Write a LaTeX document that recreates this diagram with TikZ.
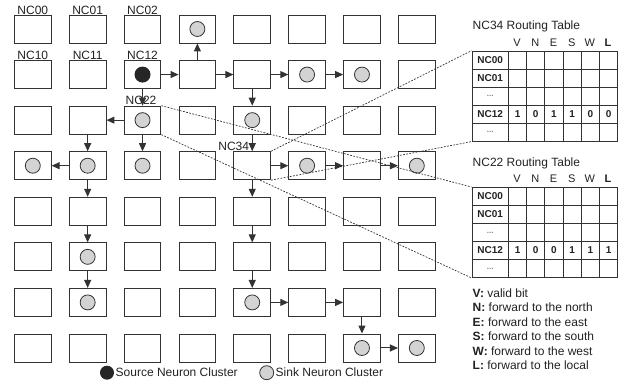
\documentclass[tikz,border=0pt]{standalone}
\usepackage{fontspec}
\setmainfont{Liberation Sans}
\usetikzlibrary{arrows.meta}
\definecolor{ln}{HTML}{333333}
\definecolor{txt}{HTML}{222222}
\definecolor{sinkfill}{HTML}{D3D3D3}
\tikzset{
 cell/.style={draw=ln, line width=0.95pt, minimum width=36.7pt, minimum height=28pt, inner sep=0pt},
 sink/.style={circle, draw=ln, line width=0.8pt, fill=sinkfill, minimum size=15pt, inner sep=0pt},
 source/.style={circle, fill=black!85, minimum size=16pt, inner sep=0pt},
 arr/.style={draw=ln, line width=1pt, -{Triangle[length=8pt,width=7pt]}},
 dsh/.style={draw=ln, line width=0.7pt, dash pattern=on 1.8pt off 1.4pt},
 lbl/.style={font=\fontsize{12}{14}\selectfont, inner sep=0pt, text=txt},
 hdr/.style={font=\fontsize{11}{13}\selectfont, inner sep=0pt, text=txt},
 tname/.style={draw=ln, line width=0.9pt, minimum width=36.5pt, minimum height=18pt, inner sep=0pt, font=\fontsize{10}{12}\selectfont\bfseries, text=txt, anchor=north west},
 tval/.style={draw=ln, line width=0.9pt, minimum width=18.2pt, minimum height=18pt, inner sep=0pt, font=\fontsize{10}{12}\selectfont\bfseries, text=txt, anchor=north west},
}
\newcommand\ellip{\textcolor{gray}{\fontsize{8}{10}\selectfont\textbf{...}}}
\newcommand\rtab[4]{%
 \node[lbl, anchor=west] (#1title) at (472.5, #2-24) {#3 Routing Table};
 \foreach \h [count=\kk] in {V,N,E,S,W,\textbf{L}}
   \node[hdr] (#1h\kk) at (508+18.2*\kk-9.1, #2-8) {\h};
 \foreach \nm [count=\rr] in {NC00,NC01,\ellip,NC12,\ellip}
   \node[tname] (#1-\rr-0) at (471.5, #2+18*\rr-18) {\nm};
 \foreach \rr in {1,2,3,5}
   \foreach \kk in {1,...,6}
     \node[tval] (#1-\rr-\kk) at (508+18.2*\kk-18.2, #2+18*\rr-18) {};
 \foreach \v [count=\kk] in {#4}
   \node[tval] (#1-4-\kk) at (508+18.2*\kk-18.2, #2+54) {\v};
}
\begin{document}
\begin{tikzpicture}[x=1pt,y=-1pt]
\useasboundingbox (0,0) rectangle (635,385);
% grid
\foreach \rr in {0,...,7}
  \foreach \cc in {0,...,7}
    \node[cell] (n\rr\cc) at ({32.8+54.86*\cc},{29+45.57*\rr}) {};
% labels
\foreach \id in {00,01,02,10,11,12}
  \node[lbl, anchor=base] (l\id) at ([yshift=0.5pt]n\id.north) {NC\id};
\node[lbl, anchor=base] (l22) at ([xshift=-1.5pt,yshift=0.8pt]n22.north) {NC22};
\node[lbl, anchor=base east] (l34) at ([xshift=-3pt,yshift=0.8pt]n34.north) {NC34};
% source and sinks
\node[source] (src) at (n12) {};
\foreach \id in {03,15,16,22,24,30,31,32,35,37,51,61,64,76,77}
  \node[sink] (s\id) at (n\id) {};
% arrows
\foreach \a/\b in {12/13,13/14,14/15,15/16,34/35,35/36,36/37,64/65,65/66,76/77}
  \draw[arr] (n\a.east) -- (n\b.west);
\foreach \a/\b in {14/24,24/34,34/44,44/54,54/64,66/76,12/22,22/32,21/31,31/41,41/51,51/61}
  \draw[arr] (n\a.south) -- (n\b.north);
\draw[arr] (n13.north) -- (n03.south);
\foreach \a/\b in {22/21,31/30}
  \draw[arr] (n\a.west) -- (n\b.east);
% tables
\rtab{A}{50.7}{NC34}{1,0,1,1,0,0}
\rtab{B}{187}{NC22}{1,0,0,1,1,1}
% dashed connectors
\draw[dsh] (n34.north east) -- (A-1-0.north west);
\draw[dsh] (n34.south east) -- (A-5-0.south west);
\draw[dsh] (n22.north east) -- (B-1-0.north west);
\draw[dsh] (n22.south east) -- (B-5-0.south west);
% key
\foreach \b/\tx [count=\i] in {V/valid bit, N/forward to the north, E/forward to the east, S/forward to the south, W/forward to the west, L/forward to the local}
  \node[lbl, anchor=west] (leg\i) at (472.5, 293.3+14.4*\i-14.4) {\textbf{\b:} \tx};
% bottom legend
\node[source, minimum size=14pt] (lsrc) at (107,372.7) {};
\node[lbl, anchor=west] (lsrctxt) at (115.5,372.7) {Source Neuron Cluster};
\node[sink, minimum size=14pt] (lsink) at (266.7,372.7) {};
\node[lbl, anchor=west] (lsinktxt) at (275.5,372.7) {Sink Neuron Cluster};
\end{tikzpicture}
\end{document}
